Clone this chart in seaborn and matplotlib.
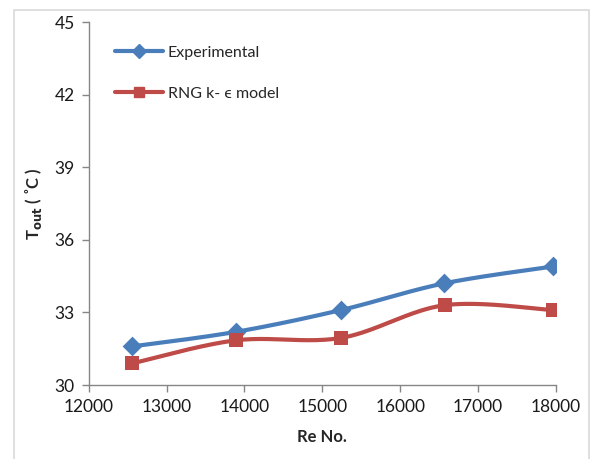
import numpy as np
import pandas as pd
import matplotlib
matplotlib.use("Agg")
import matplotlib.pyplot as plt
import seaborn as sns
from matplotlib.patches import Rectangle

# Outlet temperature against Reynolds number
re_exp = [12560, 13890, 15240, 16560, 17960]
t_exp = [31.6, 32.2, 33.1, 34.2, 34.9]
re_rng = [12560, 13890, 15240, 16570, 17960]
t_rng = [30.9, 31.85, 31.95, 33.3, 33.1]

x_ticks = [12000, 13000, 14000, 15000, 16000, 17000, 18000]
y_ticks = [30, 33, 36, 39, 42, 45]

blue = "#4A7EBB"
red = "#BE4B48"

sns.set_theme(style="white")
plt.rcParams["font.family"] = ["Lato", "DejaVu Sans"]


def smooth(xs, ys, sx=77.8 / 1000, sy=24.2, n=40):
    """Bezier smoothing through the points (Catmull-Rom style control points)."""
    P = np.column_stack([np.asarray(xs) * sx, np.asarray(ys) * sy])
    out = []
    for i in range(len(P) - 1):
        p0 = P[i - 1] if i > 0 else P[i]
        p1, p2 = P[i], P[i + 1]
        p3 = P[i + 2] if i + 2 < len(P) else P[i + 1]
        c1 = p1 + (p2 - p0) / 6
        c2 = p2 - (p3 - p1) / 6
        t = np.linspace(0, 1, n)[:, None]
        seg = ((1 - t) ** 3) * p1 + 3 * ((1 - t) ** 2) * t * c1 + 3 * (1 - t) * t ** 2 * c2 + t ** 3 * p2
        out.append(seg if i == 0 else seg[1:])
    out = np.vstack(out)
    return out[:, 0] / sx, out[:, 1] / sy


fig = plt.figure(figsize=(5.92, 4.59), dpi=100)
ax = fig.add_axes([0.150, 0.161, 0.789, 0.791])

fig.patches.append(Rectangle((14 / 592, -0.01), 575 / 592, 1 - 10 / 459 + 0.01,
                             transform=fig.transFigure, fill=False,
                             edgecolor="#D9D9D9", linewidth=1.2, zorder=0))

for xs, ys, col, mk, ms, lab in [
    (re_exp, t_exp, blue, "D", 8.5, "Experimental"),
    (re_rng, t_rng, red, "s", 8.5, "RNG k- \u03f5 model"),
]:
    cx, cy = smooth(xs, ys)
    sns.lineplot(x=cx, y=cy, ax=ax, color=col, linewidth=3, sort=False,
                 estimator=None)
    sns.scatterplot(x=xs, y=ys, ax=ax, color=col, marker=mk, s=ms ** 2 * 1.4,
                    edgecolor=col, linewidth=0, zorder=5)
    ax.plot([], [], color=col, linewidth=3, marker=mk, markersize=ms - 1,
            label=lab)

ax.set_xlim(12000, 18000)
ax.set_ylim(30, 45)
ax.set_xticks(x_ticks)
ax.set_yticks(y_ticks)
ax.tick_params(axis="both", which="major", length=5, width=1, color="#868686",
               direction="out", labelsize=12.5, labelcolor="#1a1a1a",
               bottom=True, left=True, pad=5)
for side in ["top", "right"]:
    ax.spines[side].set_visible(False)
for side in ["left", "bottom"]:
    ax.spines[side].set_color("#868686")
    ax.spines[side].set_linewidth(1)
ax.grid(False)

ax.set_xlabel("Re No.", fontsize=12, fontweight="bold", labelpad=10)
ax.set_ylabel("T$_{\\mathbf{out}}$ ( \u02daC )", fontsize=12, fontweight="bold",
              labelpad=8)

leg = ax.legend(loc="upper left", bbox_to_anchor=(0.025, 0.975), frameon=False,
                fontsize=11.5, handlelength=3.0, handletextpad=0.3,
                labelspacing=1.7)

fig.savefig("out.png", dpi=100)
